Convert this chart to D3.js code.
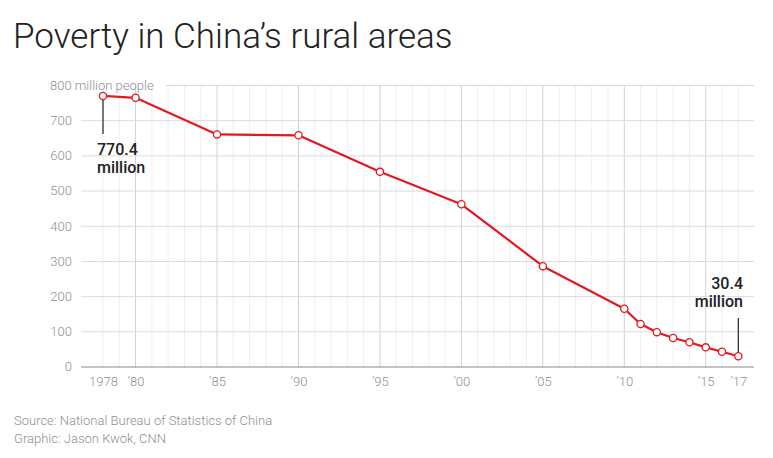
<!DOCTYPE html>
<html>
<head>
<meta charset="utf-8">
<script src="https://cdn.jsdelivr.net/npm/d3@7"></script>
<style>
  body { margin: 0; background: #fff; }
  svg { display: block; font-family: Roboto, "Liberation Sans", sans-serif; }
</style>
</head>
<body>
<div class="myChart"></div>
<script>
//Data
var years = [1978, 1980, 1985, 1990, 1995, 2000, 2005, 2010, 2011, 2012, 2013, 2014, 2015, 2016, 2017];
var poor = [770.4, 765.1, 661.0, 658.5, 554.6, 462.4, 286.6, 165.7, 122.4, 99.0, 82.5, 70.2, 55.8, 43.4, 30.4];
var yTicks = [0, 100, 200, 300, 400, 500, 600, 700, 800];
var xTicks = [1978, 1980, 1985, 1990, 1995, 2000, 2005, 2010, 2015, 2017];
var xTickLabels = ["1978", "\u201980", "\u201985", "\u201990", "\u201995", "\u201900", "\u201905", "\u201910", "\u201915", "\u201917"];

//Canvas Size
var width = 773;
var height = 458;
var red = "#e3191f";

//Scales
var xScale = d3.scaleLinear()
    .domain([1978, 2017])
    .range([103, 738.3]);
var yScale = d3.scaleLinear()
    .domain([0, 800])
    .range([367, 85.5]);
var gridLeft = 81;
var gridRight = 754;

var svg = d3.select(".myChart").append("svg")
    .attr("width", width)
    .attr("height", height);

//Title
svg.append("text")
    .attr("x", 13)
    .attr("y", 48)
    .style("font-size", "35px")
    .style("font-weight", 300)
    .style("fill", "#222")
    .text("Poverty in China\u2019s rural areas");

//Vertical grid, one line a year
var allYears = d3.range(1978, 2018);
svg.append("g").selectAll("line")
    .data(allYears)
    .enter()
    .append("line")
    .attr("x1", function(d) {return xScale(d);})
    .attr("x2", function(d) {return xScale(d);})
    .attr("y1", yScale(800))
    .attr("y2", yScale(0))
    .style("stroke", function(d) {return (d % 5 === 0) ? "#d0d0d0" : "#efefef";})
    .style("stroke-width", 1);

//Horizontal grid
svg.append("g").selectAll("line")
    .data(yTicks.filter(function(d) {return d > 0;}))
    .enter()
    .append("line")
    .attr("x1", function(d) {return d === 800 ? 166 : gridLeft;})
    .attr("x2", gridRight)
    .attr("y1", function(d) {return yScale(d);})
    .attr("y2", function(d) {return yScale(d);})
    .style("stroke", "#dcdcdc")
    .style("stroke-width", 1);

//Baseline
svg.append("line")
    .attr("x1", gridLeft)
    .attr("x2", gridRight)
    .attr("y1", yScale(0))
    .attr("y2", yScale(0))
    .style("stroke", "#8a8a8a")
    .style("stroke-width", 1.2);

//Y axis labels
var yAxis = d3.axisLeft(yScale)
    .tickValues(yTicks)
    .tickSize(0)
    .tickPadding(0)
    .tickFormat(function(d) {return d === 800 ? "800 million people" : d;});
var yG = svg.append("g")
    .attr("transform", "translate(72,0)")
    .call(yAxis);
yG.select(".domain").remove();
yG.selectAll("text")
    .style("font-family", "Roboto, sans-serif")
    .style("font-size", "13px")
    .style("font-weight", 300)
    .style("fill", "#8f8f8f")
    .attr("dy", "0.3em");
yG.selectAll(".tick")
    .filter(function(d) {return d === 800;})
    .select("text")
    .attr("x", -22)
    .attr("text-anchor", "start");

//X axis labels
var xAxis = d3.axisBottom(xScale)
    .tickValues(xTicks)
    .tickSize(0)
    .tickPadding(0)
    .tickFormat(function(d, i) {return xTickLabels[i];});
var xG = svg.append("g")
    .attr("transform", "translate(0," + (yScale(0) + 10) + ")")
    .call(xAxis);
xG.select(".domain").remove();
xG.selectAll("text")
    .style("font-family", "Roboto, sans-serif")
    .style("font-size", "13px")
    .style("font-weight", 300)
    .style("fill", "#8f8f8f");

//Line
var line = d3.line()
    .x(function(d, i) {return xScale(years[i]);})
    .y(function(d) {return yScale(d);});
svg.append("path")
    .datum(poor)
    .attr("d", line)
    .style("fill", "none")
    .style("stroke", red)
    .style("stroke-width", 2.2)
    .style("stroke-linejoin", "round");

//Annotation lines
var first = poor[0];
var last = poor[poor.length - 1];
svg.append("line")
    .attr("x1", xScale(years[0])).attr("x2", xScale(years[0]))
    .attr("y1", yScale(first) + 4).attr("y2", 134)
    .style("stroke", "#222").style("stroke-width", 1.2);
svg.append("line")
    .attr("x1", xScale(2017)).attr("x2", xScale(2017))
    .attr("y1", 318).attr("y2", yScale(last) - 4)
    .style("stroke", "#222").style("stroke-width", 1.2);

//Points
svg.append("g").selectAll("circle")
    .data(poor)
    .enter()
    .append("circle")
    .attr("cx", function(d, i) {return xScale(years[i]);})
    .attr("cy", function(d) {return yScale(d);})
    .attr("r", 3.6)
    .style("fill", "#fff")
    .style("stroke", red)
    .style("stroke-width", 1.3);

//Annotation text
function note(x, y, anchor, lines) {
    var t = svg.append("text")
        .attr("x", x)
        .attr("y", y)
        .attr("text-anchor", anchor)
        .style("font-size", "16px")
        .style("font-weight", 500)
        .style("fill", "#222");
    lines.forEach(function(s, i) {
        t.append("tspan").attr("x", x).attr("dy", i === 0 ? 0 : 18).text(s);
    });
}
note(97, 155, "start", [d3.format(".1f")(first), "million"]);
note(743, 289, "end", [d3.format(".1f")(last), "million"]);

//Footer
var foot = ["Source: National Bureau of Statistics of China", "Graphic: Jason Kwok, CNN"];
svg.append("g").selectAll("text")
    .data(foot)
    .enter()
    .append("text")
    .attr("x", 14)
    .attr("y", function(d, i) {return 425 + i * 18;})
    .style("font-size", "13px")
    .style("font-weight", 300)
    .style("fill", "#8f8f8f")
    .text(function(d) {return d;});
</script>
</body>
</html>
